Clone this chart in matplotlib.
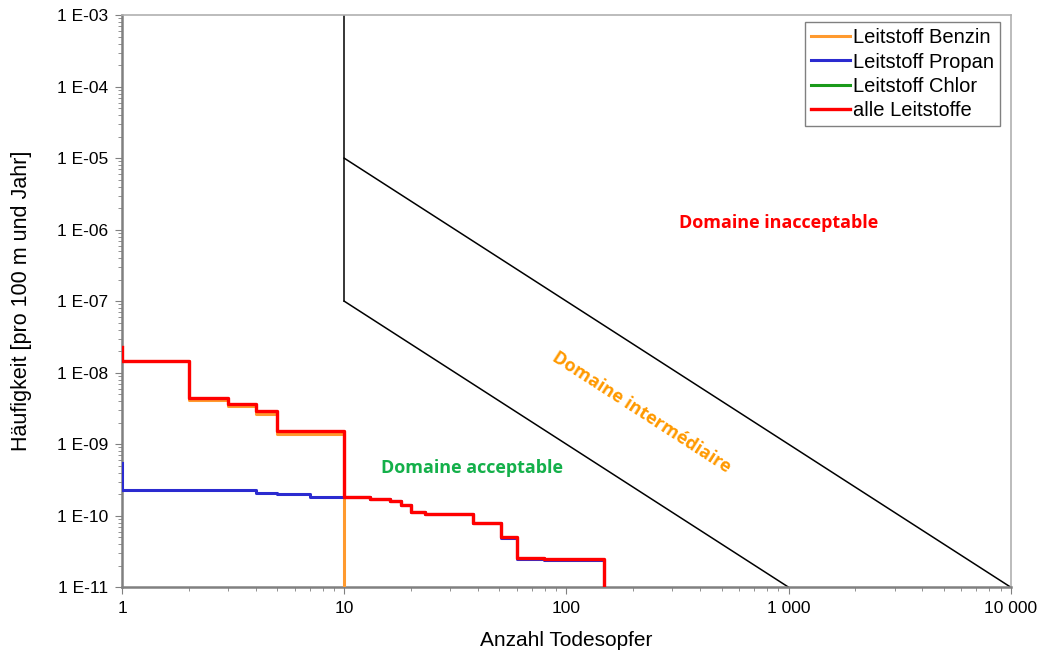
import numpy as np
import matplotlib
matplotlib.use('Agg')
from matplotlib import pyplot as plt
from matplotlib.ticker import FixedLocator, LogLocator, NullFormatter

# step curves (x = number of fatalities, y = frequency), drawn as post-steps
benzin_x = [1, 1, 2, 3, 4, 5, 10, 10]
benzin_y = [2.3e-8, 1.45e-8, 4.1e-9, 3.4e-9, 2.6e-9, 1.37e-9, 1e-12, 1e-12]

propan_x = [1, 1, 2, 4, 5, 7, 10, 13, 16, 18, 20, 23, 38, 51, 60, 79, 147, 147]
propan_y = [5.5e-10, 2.32e-10, 2.25e-10, 2.06e-10, 2.0e-10, 1.83e-10, 1.8e-10,
            1.72e-10, 1.6e-10, 1.4e-10, 1.11e-10, 1.05e-10, 7.8e-11, 4.8e-11,
            2.44e-11, 2.4e-11, 1e-12, 1e-12]

chlor_x = []
chlor_y = []

alle_x = [1, 1, 2, 3, 4, 5, 10, 13, 16, 18, 20, 23, 38, 51, 60, 79, 147, 147]
alle_y = [2.3e-8, 1.45e-8, 4.43e-9, 3.7e-9, 2.9e-9, 1.53e-9, 1.8e-10,
          1.72e-10, 1.6e-10, 1.4e-10, 1.11e-10, 1.06e-10, 7.8e-11, 5.1e-11,
          2.52e-11, 2.48e-11, 1e-12, 1e-12]

# limit lines of the acceptability diagram
border_x = [10, 10]
border_y = [1e-3, 1e-7]
upper_x = [10, 10000]
upper_y = [1e-5, 1e-11]
lower_x = [10, 1000]
lower_y = [1e-7, 1e-11]

xticks = [1, 10, 100, 1000, 10000]
xticklabels = ['1', '10', '100', '1 000', '10 000']
yticks = [1e-11, 1e-10, 1e-9, 1e-8, 1e-7, 1e-6, 1e-5, 1e-4, 1e-3]
yticklabels = ['1 E-11', '1 E-10', '1 E-09', '1 E-08', '1 E-07',
               '1 E-06', '1 E-05', '1 E-04', '1 E-03']

plt.rcParams['font.family'] = ['Liberation Sans', 'DejaVu Sans']

fig = plt.figure(figsize=(10.43, 6.59), dpi=100)
ax = fig.add_axes([0.117, 0.109, 0.852, 0.868])

ax.plot(border_x, border_y, color='black', lw=1.1)
ax.plot(upper_x, upper_y, color='black', lw=1.1)
ax.plot(lower_x, lower_y, color='black', lw=1.1)

ax.step(benzin_x, benzin_y, where='post', color='#ff9a2e', lw=2.2, label='Leitstoff Benzin', zorder=3)
ax.step(propan_x, propan_y, where='post', color='#2b2bd0', lw=2.2, label='Leitstoff Propan', zorder=3)
ax.step(chlor_x, chlor_y, where='post', color='#1a9a1a', lw=2.2, label='Leitstoff Chlor', zorder=3)
ax.step(alle_x, alle_y, where='post', color='#ff0000', lw=2.4, label='alle Leitstoffe', zorder=3)

ax.set_xscale('log')
ax.set_yscale('log')
ax.set_xlim(1, 10000)
ax.set_ylim(1e-11, 1e-3)

ax.xaxis.set_major_locator(FixedLocator(xticks))
ax.set_xticklabels(xticklabels)
ax.yaxis.set_major_locator(FixedLocator(yticks))
ax.set_yticklabels(yticklabels)
ax.xaxis.set_minor_locator(LogLocator(base=10, subs=np.arange(2, 10)))
ax.yaxis.set_minor_locator(LogLocator(base=10, subs=np.arange(2, 10)))
ax.xaxis.set_minor_formatter(NullFormatter())
ax.yaxis.set_minor_formatter(NullFormatter())
ax.tick_params(which='major', length=5, color='#808080', labelsize=12.5, pad=5)
ax.tick_params(which='minor', length=3, color='#808080')

for side in ['left', 'bottom']:
    ax.spines[side].set_color('#808080')
    ax.spines[side].set_linewidth(1.8)
for side in ['top', 'right']:
    ax.spines[side].set_color('#b0b0b0')
    ax.spines[side].set_linewidth(1.2)

ax.set_xlabel('Anzahl Todesopfer', fontsize=15, va='center')
ax.set_ylabel('Häufigkeit [pro 100 m und Jahr]', fontsize=15.5, va='center')
ax.xaxis.set_label_coords(0.5, -0.093)
ax.yaxis.set_label_coords(-0.113, 0.5)

font_zone = ['Open Sans', 'DejaVu Sans']
ax.text(902, 1.23e-6, 'Domaine inacceptable', color='#ff0000', fontsize=13,
        fontweight='bold', family=font_zone, ha='center', va='center')
ax.text(218, 2.8e-9, 'Domaine intermédiaire', color='#ff9900', fontsize=13,
        fontweight='bold', family=font_zone, rotation=-32.8,
        rotation_mode='anchor', ha='center', va='center')
ax.text(37.5, 4.6e-10, 'Domaine acceptable', color='#14b04a', fontsize=13,
        fontweight='bold', family=font_zone, ha='center', va='center')

leg = ax.legend(loc='upper right', fontsize=14.5, handlelength=1.9,
                handletextpad=0.15, borderpad=0.3, labelspacing=0.27,
                borderaxespad=0, fancybox=False, edgecolor='#808080',
                framealpha=1, bbox_to_anchor=(0.9876, 0.988))
leg.get_frame().set_linewidth(1.0)

fig.savefig('out.png', dpi=100)
